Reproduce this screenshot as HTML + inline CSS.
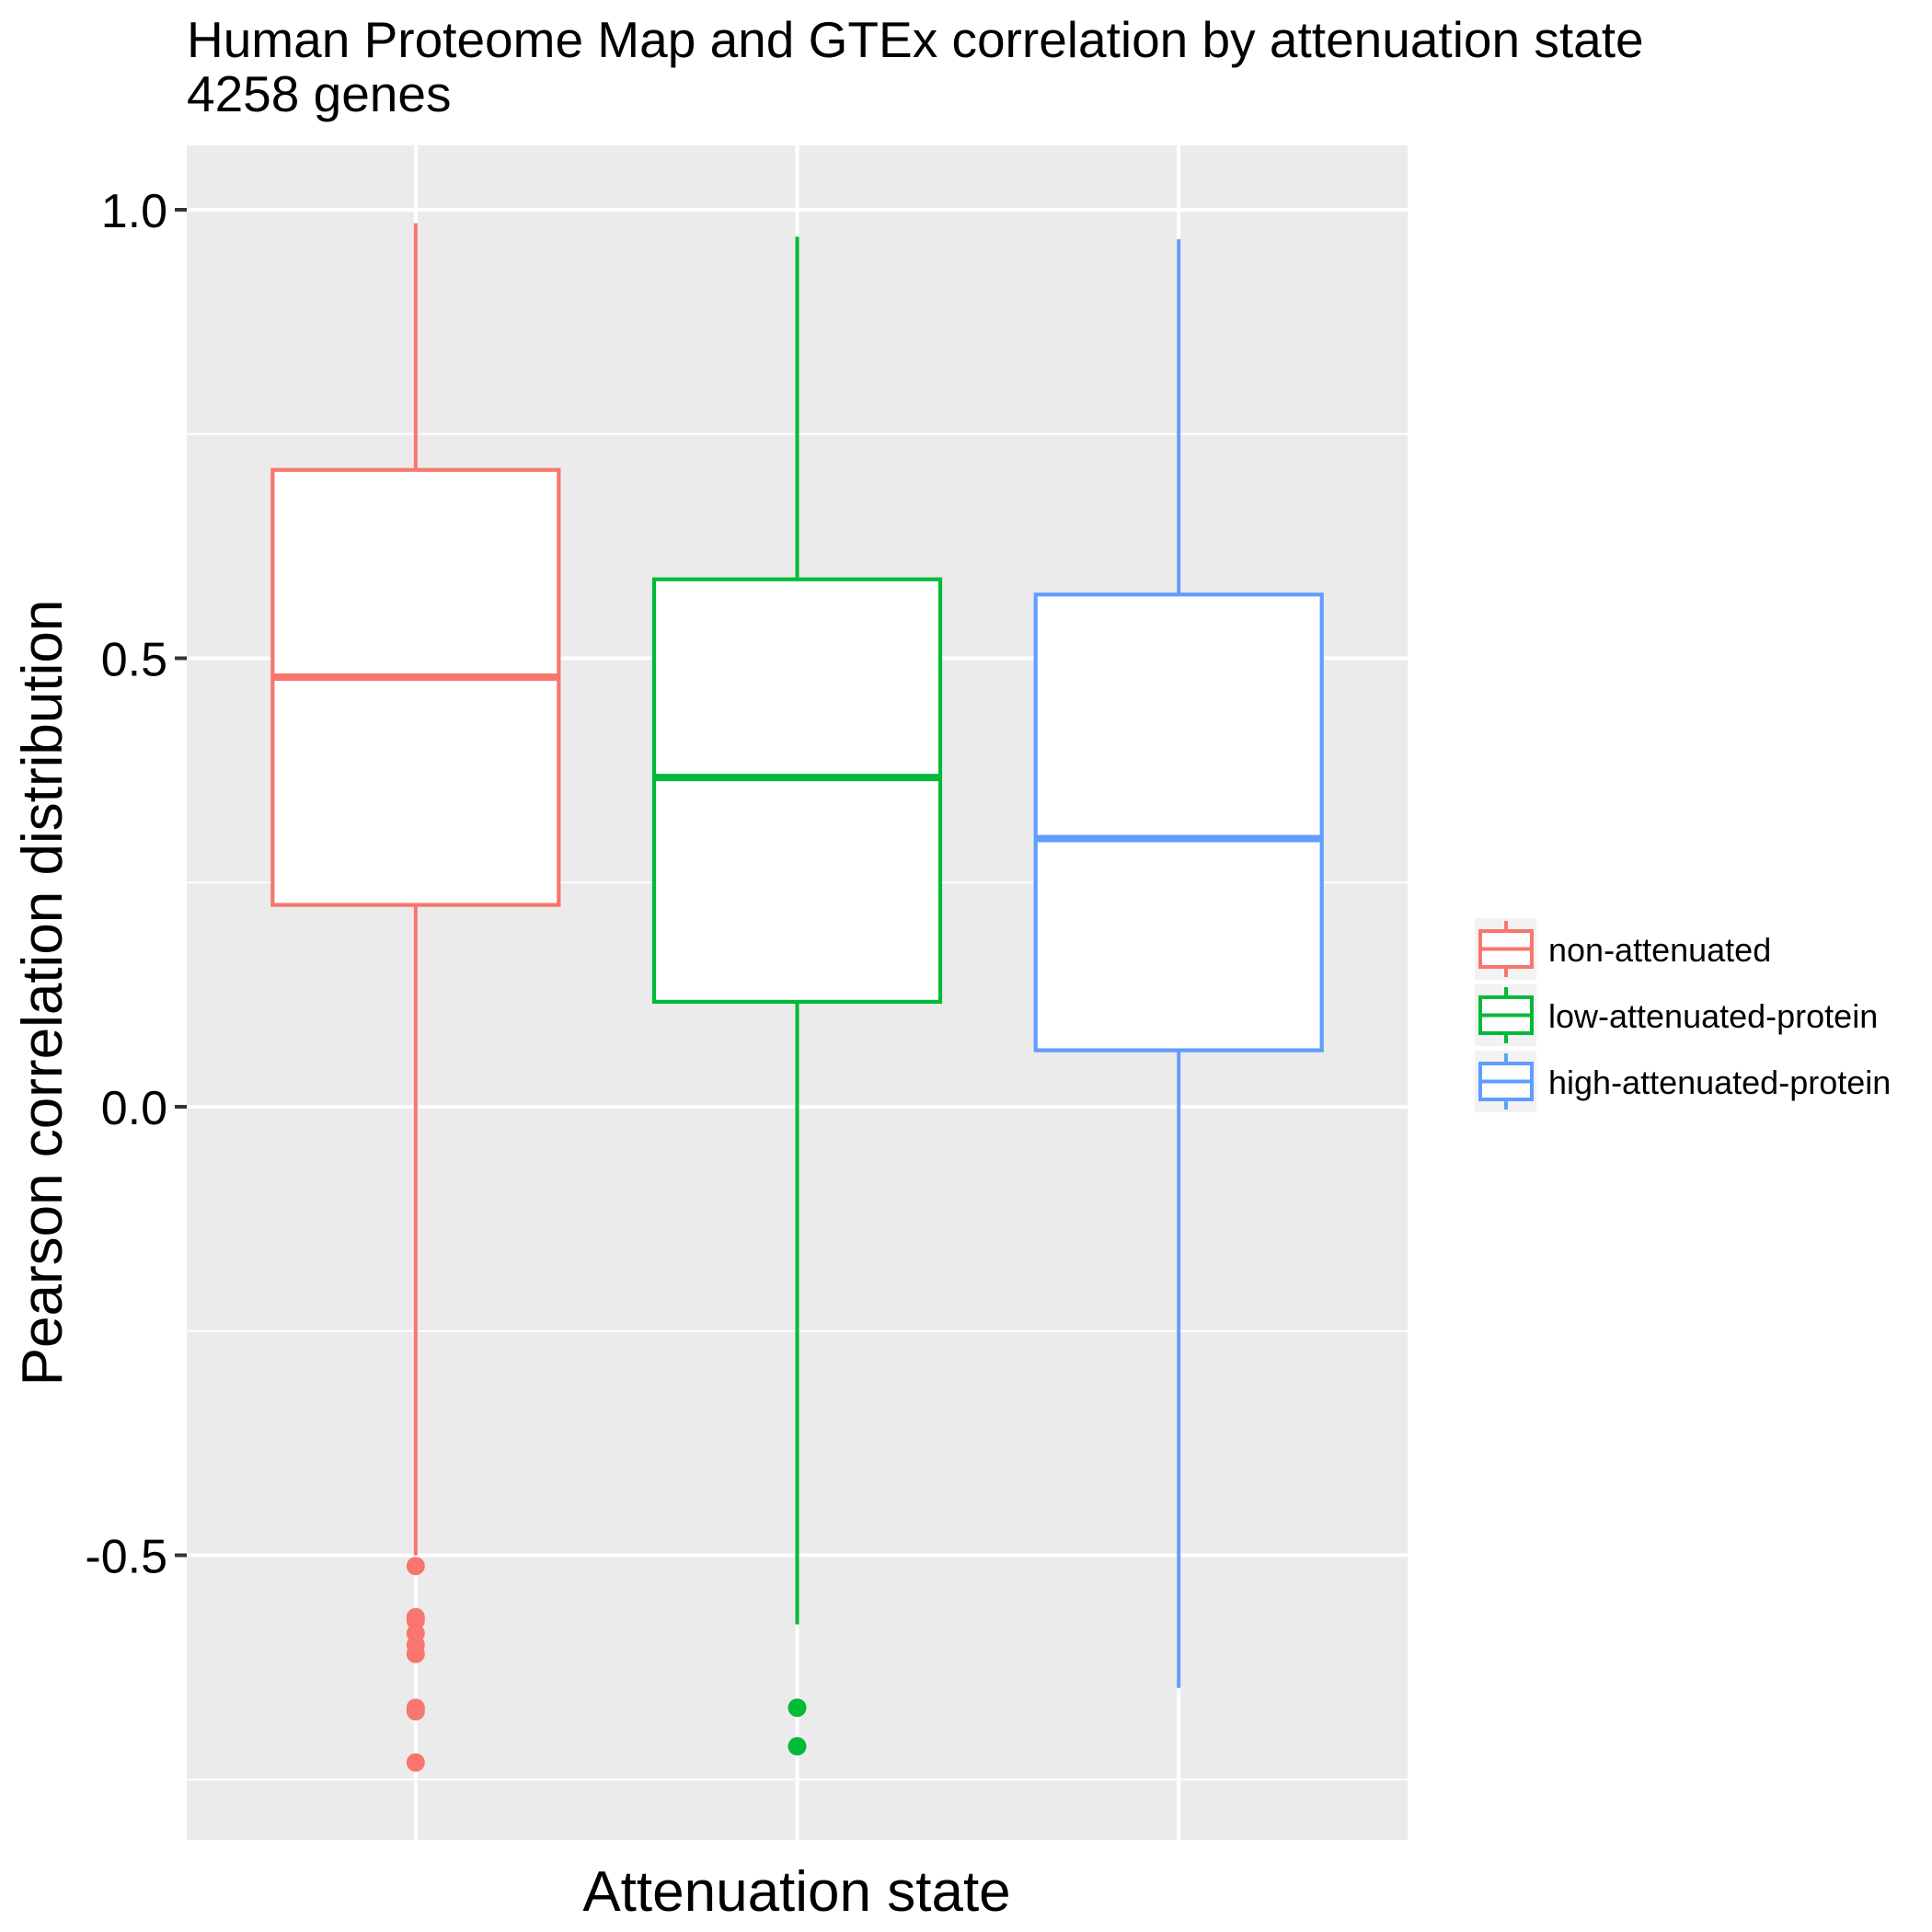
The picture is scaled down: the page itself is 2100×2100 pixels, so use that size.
<!DOCTYPE html>
<html><head><meta charset="utf-8"><style>
html,body{margin:0;padding:0;background:#fff;}
svg{display:block;font-family:"Liberation Sans",Arial,sans-serif;}
</style></head><body>
<svg id="chart" width="2100" height="2100" viewBox="0 0 2100 2100" xmlns="http://www.w3.org/2000/svg">
<text x="203" y="62" font-size="55" fill="#000">Human Proteome Map and GTEx correlation by attenuation state</text>
<text x="203" y="121" font-size="55" fill="#000">4258 genes</text>
<rect x="203" y="158" width="1327" height="1842" fill="#EBEBEB"/>
<g id="grid"></g>
<g id="yaxis"></g>
<g id="boxes"></g>
<text x="866" y="2077" font-size="62" text-anchor="middle" fill="#000">Attenuation state</text>
<text transform="translate(67,1079) rotate(-90)" font-size="62" text-anchor="middle" fill="#000">Pearson correlation distribution</text>
<g id="legend"></g>
</svg>
<script>
const categories = ["non-attenuated","low-attenuated-protein","high-attenuated-protein"];
const colors = ["#F8766D","#00BA38","#619CFF"];
const whiskerHigh = [0.985,0.970,0.967];
const q3 = [0.710,0.588,0.571];
const median = [0.479,0.367,0.299];
const q1 = [0.225,0.117,0.063];
const whiskerLow = [-0.500,-0.577,-0.648];
const outliers = [[-0.512,-0.569,-0.573,-0.587,-0.600,-0.610,-0.670,-0.674,-0.731],[-0.670,-0.713],[]];
const yTicks = [-0.5,0.0,0.5,1.0];
const yTickLabels = ["-0.5","0.0","0.5","1.0"];
const yMinor = [-0.75,-0.25,0.25,0.75];

const NS="http://www.w3.org/2000/svg";
const panelL=203, panelR=1530, panelT=158, panelB=2000;
const y0px=1203, pxPerUnit=975;
function y(v){return y0px-v*pxPerUnit;}
const step=(panelR-panelL)/3.2;
function x(i){return panelL+step*(0.6+i);}
const boxW=step*0.75;
function mk(tag,attrs,parent){const e=document.createElementNS(NS,tag);for(const k in attrs)e.setAttribute(k,attrs[k]);parent.appendChild(e);return e;}
const grid=document.getElementById('grid');
yMinor.forEach(v=>{const l=mk('line',{x1:panelL,x2:panelR,y1:y(v),y2:y(v),stroke:'#fff','stroke-width':2},grid);

});
yTicks.forEach(v=>{const l=mk('line',{x1:panelL,x2:panelR,y1:y(v),y2:y(v),stroke:'#fff','stroke-width':4},grid);

});
categories.forEach((c,i)=>{const l=mk('line',{x1:x(i),x2:x(i),y1:panelT,y2:panelB,stroke:'#fff','stroke-width':4},grid);

});
const ya=document.getElementById('yaxis');
yTicks.forEach((v,i)=>{
const t=mk('line',{x1:190,x2:203,y1:y(v),y2:y(v),stroke:'#333','stroke-width':4},ya);


const tx=mk('text',{x:182,y:y(v)+19,'font-size':52,'text-anchor':'end',fill:'#000'},ya);
tx.textContent=yTickLabels[i];

});
const bx=document.getElementById('boxes');
categories.forEach((c,i)=>{
const g=mk('g',{},bx);


const cx=x(i), col=colors[i];
const w1=mk('line',{x1:cx,x2:cx,y1:y(whiskerHigh[i]),y2:y(q3[i]),stroke:col,'stroke-width':4},g);


const w2=mk('line',{x1:cx,x2:cx,y1:y(q1[i]),y2:y(whiskerLow[i]),stroke:col,'stroke-width':4},g);


const r=mk('rect',{x:cx-boxW/2,y:y(q3[i]),width:boxW,height:y(q1[i])-y(q3[i]),fill:'#fff',stroke:col,'stroke-width':4.2},g);


const m=mk('line',{x1:cx-boxW/2,x2:cx+boxW/2,y1:y(median[i]),y2:y(median[i]),stroke:col,'stroke-width':8},g);


outliers[i].forEach(v=>{const p=mk('circle',{cx:cx,cy:y(v),r:10,fill:col},g);

});
});
const lg=document.getElementById('legend');
categories.forEach((c,i)=>{
const top=998+i*72, col=colors[i];
const g=mk('g',{},lg);


const bg=mk('rect',{x:1603,y:top,width:67,height:67,fill:'#F2F2F2'},g);


mk('line',{x1:1637,x2:1637,y1:top+3,y2:top+64,stroke:col,'stroke-width':4},g);
mk('rect',{x:1609,y:top+14,width:56,height:39,fill:'#fff',stroke:col,'stroke-width':4},g);
mk('line',{x1:1609,x2:1665,y1:top+33.5,y2:top+33.5,stroke:col,'stroke-width':4},g);
const t=mk('text',{x:1683,y:top+47,'font-size':36,fill:'#000'},g);
t.textContent=c;


});
</script>
</body></html>
